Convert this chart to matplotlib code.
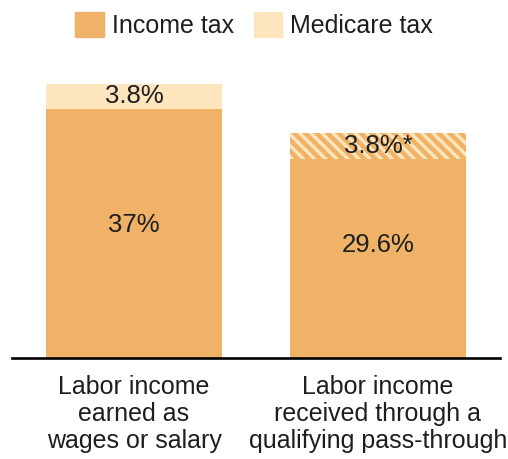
import matplotlib
matplotlib.use("Agg")
import matplotlib.pyplot as plt
from matplotlib.patches import Patch

plt.rcParams["font.family"] = ["Liberation Sans", "DejaVu Sans"]
plt.rcParams["hatch.linewidth"] = 2.4

########################################################

categories = ["Labor income\nearned as\nwages or salary",
              "Labor income\nreceived through a\nqualifying pass-through"]
income_tax = [37.0, 29.6]
medicare_tax = [3.8, 3.8]
income_labels = ["37%", "29.6%"]
medicare_labels = ["3.8%", "3.8%*"]
medicare_hatched = [False, True]
income_label_shift = [6, 10]  # points above the segment middle

income_color = "#F0B266"
medicare_color = "#FDE6BD"
text_color = "#1E1E1E"

########################################################

fig = plt.figure(figsize=(5.08, 4.59), dpi=100)
ax = fig.add_axes([12 / 508, 101 / 459, 488 / 508, 298 / 459])

xs = range(len(categories))
width = 0.72

ax.bar(xs, income_tax, width=width, color=income_color, linewidth=0)
for x, base, val, hatched in zip(xs, income_tax, medicare_tax, medicare_hatched):
    if hatched:
        ax.bar(x, val, bottom=base, width=width, facecolor=income_color,
               edgecolor=medicare_color, hatch="\\\\\\", linewidth=0)
    else:
        ax.bar(x, val, bottom=base, width=width, color=medicare_color, linewidth=0)

for x, val, lab, dy in zip(xs, income_tax, income_labels, income_label_shift):
    ax.annotate(lab, (x, val / 2), xytext=(0, dy), textcoords="offset points",
                ha="center", va="center", fontsize=18.5, color=text_color)
for x, base, val, lab in zip(xs, income_tax, medicare_tax, medicare_labels):
    ax.text(x, base + val / 2, lab, ha="center", va="center",
            fontsize=18.5, color=text_color)

ax.set_xlim(-0.5, 1.5)
ax.set_ylim(0, 44.3)
ax.set_xticks(list(xs))
ax.set_xticklabels(categories, fontsize=18, color=text_color, linespacing=1.16)
ax.tick_params(axis="x", length=0, pad=12)
ax.set_yticks([])
for side in ["top", "left", "right"]:
    ax.spines[side].set_visible(False)
ax.spines["bottom"].set_linewidth(1.9)
ax.spines["bottom"].set_color("black")

handles = [Patch(color=income_color, label="Income tax"),
           Patch(color=medicare_color, label="Medicare tax")]
fig.legend(handles=handles, loc="center", bbox_to_anchor=(254 / 508, 1 - 25 / 459),
           ncol=2, frameon=False, fontsize=18, handlelength=1.15, handleheight=1.15,
           handletextpad=0.3, columnspacing=0.8, labelcolor=text_color, borderpad=0)

fig.savefig("out.png", dpi=100)
plt.close("all")
